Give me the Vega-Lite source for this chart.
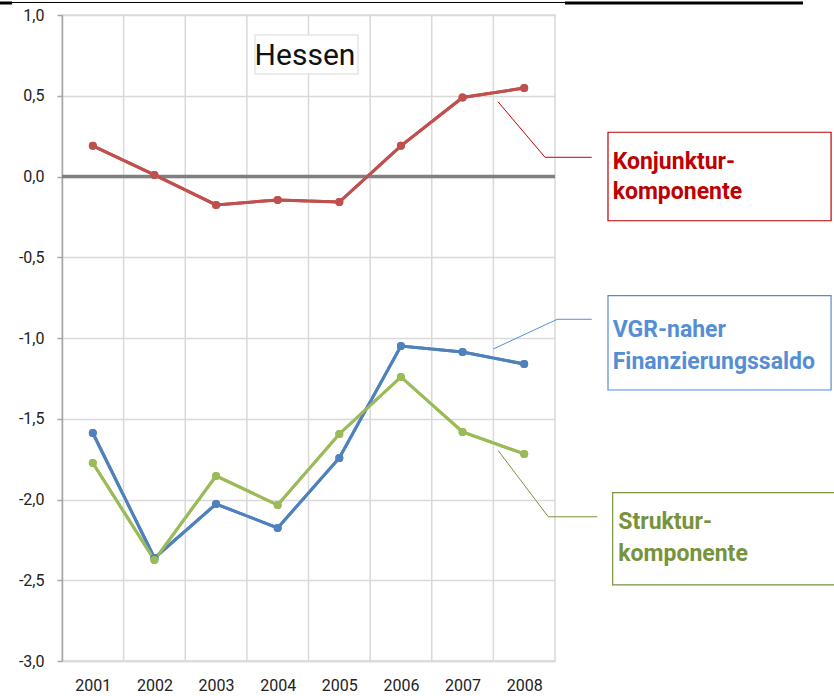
{
  "$schema": "https://vega.github.io/schema/vega-lite/v6.json",
  "width": 493,
  "height": 646,
  "autosize": "none",
  "padding": {"left": 62, "top": 15, "right": 279, "bottom": 35},
  "background": "white",
  "config": {"view": {"stroke": "#d9d9d9", "strokeWidth": 1.5}, "font": "Roboto"},
  "datasets": {
    "series": [
      {"year": 2001, "series": "Konjunkturkomponente", "value": 0.19},
      {"year": 2002, "series": "Konjunkturkomponente", "value": 0.01},
      {"year": 2003, "series": "Konjunkturkomponente", "value": -0.176},
      {"year": 2004, "series": "Konjunkturkomponente", "value": -0.145},
      {"year": 2005, "series": "Konjunkturkomponente", "value": -0.158},
      {"year": 2006, "series": "Konjunkturkomponente", "value": 0.19},
      {"year": 2007, "series": "Konjunkturkomponente", "value": 0.489},
      {"year": 2008, "series": "Konjunkturkomponente", "value": 0.548},
      {"year": 2001, "series": "VGR-naher Finanzierungssaldo", "value": -1.588},
      {"year": 2002, "series": "VGR-naher Finanzierungssaldo", "value": -2.362},
      {"year": 2003, "series": "VGR-naher Finanzierungssaldo", "value": -2.028},
      {"year": 2004, "series": "VGR-naher Finanzierungssaldo", "value": -2.176},
      {"year": 2005, "series": "VGR-naher Finanzierungssaldo", "value": -1.743},
      {"year": 2006, "series": "VGR-naher Finanzierungssaldo", "value": -1.05},
      {"year": 2007, "series": "VGR-naher Finanzierungssaldo", "value": -1.087},
      {"year": 2008, "series": "VGR-naher Finanzierungssaldo", "value": -1.161},
      {"year": 2001, "series": "Strukturkomponente", "value": -1.774},
      {"year": 2002, "series": "Strukturkomponente", "value": -2.375},
      {"year": 2003, "series": "Strukturkomponente", "value": -1.854},
      {"year": 2004, "series": "Strukturkomponente", "value": -2.034},
      {"year": 2005, "series": "Strukturkomponente", "value": -1.594},
      {"year": 2006, "series": "Strukturkomponente", "value": -1.241},
      {"year": 2007, "series": "Strukturkomponente", "value": -1.582},
      {"year": 2008, "series": "Strukturkomponente", "value": -1.718}
    ],
    "bounds": [
      {"bound": 2001.5}, {"bound": 2002.5}, {"bound": 2003.5}, {"bound": 2004.5},
      {"bound": 2005.5}, {"bound": 2006.5}, {"bound": 2007.5}
    ],
    "boxes": [
      {"series": "Konjunkturkomponente", "x": 2009.36, "x2": 2012.98, "y": 0.274, "y2": -0.274},
      {"series": "VGR-naher Finanzierungssaldo", "x": 2009.36, "x2": 2012.98, "y": -0.738, "y2": -1.322},
      {"series": "Strukturkomponente", "x": 2009.436, "x2": 2013.1, "y": -1.958, "y2": -2.529}
    ],
    "connectors": [
      {"series": "Konjunkturkomponente", "i": 1, "x": 2007.575, "y": 0.463},
      {"series": "Konjunkturkomponente", "i": 2, "x": 2008.338, "y": 0.119},
      {"series": "Konjunkturkomponente", "i": 3, "x": 2009.096, "y": 0.119},
      {"series": "VGR-naher Finanzierungssaldo", "i": 1, "x": 2007.499, "y": -1.068},
      {"series": "VGR-naher Finanzierungssaldo", "i": 2, "x": 2008.537, "y": -0.884},
      {"series": "VGR-naher Finanzierungssaldo", "i": 3, "x": 2009.096, "y": -0.884},
      {"series": "Strukturkomponente", "i": 1, "x": 2007.58, "y": -1.698},
      {"series": "Strukturkomponente", "i": 2, "x": 2008.391, "y": -2.107},
      {"series": "Strukturkomponente", "i": 3, "x": 2009.186, "y": -2.107}
    ],
    "labels": [
      {"series": "Konjunkturkomponente", "text": "Konjunktur-", "x": 2009.436, "y": 0.045},
      {"series": "Konjunkturkomponente", "text": "komponente", "x": 2009.436, "y": -0.141},
      {"series": "VGR-naher Finanzierungssaldo", "text": "VGR-naher", "x": 2009.436, "y": -0.992},
      {"series": "VGR-naher Finanzierungssaldo", "text": "Finanzierungssaldo", "x": 2009.436, "y": -1.194},
      {"series": "Strukturkomponente", "text": "Struktur-", "x": 2009.527, "y": -2.183},
      {"series": "Strukturkomponente", "text": "komponente", "x": 2009.527, "y": -2.379}
    ],
    "title": [
      {"text": "Hessen", "x": 2003.632, "x2": 2005.303, "y": 0.876, "y2": 0.635, "tx": 2004.443, "ty": 0.69}
    ],
    "topline": [
      {"x": 1999.494, "x2": 2008.662, "y": 1.0774}
    ],
    "toplinethick": [
      {"x": 2008.662, "x2": 2012.524, "y": 1.0743},
      {"x": 1999.494, "x2": 1999.69, "y": 1.0743}
    ]
  },
  "layer": [
    {
      "data": {"name": "series"},
      "mark": {"type": "line", "strokeWidth": 3, "point": {"filled": true, "size": 64}},
      "encoding": {
        "x": {"field": "year", "type": "quantitative",
          "scale": {"domain": [2000.5, 2008.5], "nice": false, "zero": false},
          "axis": {
            "values": [2001, 2002, 2003, 2004, 2005, 2006, 2007, 2008],
            "title": null,
            "format": "d",
            "grid": false,
            "ticks": false,
            "domainColor": "#d9d9d9",
            "domainWidth": 1.5,
            "labelFontSize": 16,
            "labelPadding": 16,
            "labelColor": "#222222",
            "labelFont": "Roboto",
            "labelFlush": false,
            "labelOverlap": false
          }
        },
        "y": {"field": "value", "type": "quantitative",
          "scale": {"domain": [-3, 1], "nice": false, "zero": false},
          "axis": {
            "values": [-3, -2.5, -2, -1.5, -1, -0.5, 0, 0.5, 1],
            "title": null,
            "grid": true,
            "gridColor": "#d9d9d9",
            "gridWidth": 1.5,
            "domainColor": "#a6a6a6",
            "domainWidth": 1.5,
            "tickColor": "#a6a6a6",
            "tickSize": 5,
            "tickWidth": 1.5,
            "labelFontSize": 16,
            "labelColor": "#222222",
            "labelFont": "Roboto",
            "labelPadding": 13,
            "labelExpr": "replace(replace(format(datum.value, '.1f'), '.', ','), '\u2212', '-')"
          }
        },
        "color": {"field": "series", "type": "nominal", "legend": null, "sort": null,
          "scale": {"domain": ["Konjunkturkomponente", "VGR-naher Finanzierungssaldo", "Strukturkomponente"],
                    "range": ["#c0504d", "#4f81bd", "#9bbb59"]}}
      }
    },
    {
      "data": {"name": "bounds"},
      "mark": {"type": "rule", "color": "#d9d9d9", "strokeWidth": 1.5},
      "encoding": {
        "x": {"field": "bound", "type": "quantitative"}
      }
    },
    {
      "data": {"values": [{}]},
      "mark": {"type": "rule", "color": "#808080", "strokeWidth": 3.5},
      "encoding": {
        "y": {"datum": 0, "type": "quantitative"}
      }
    },
    {
      "data": {"name": "series"},
      "mark": {"type": "line", "strokeWidth": 3, "point": {"filled": true, "size": 64}},
      "encoding": {
        "x": {"field": "year", "type": "quantitative"},
        "y": {"field": "value", "type": "quantitative"},
        "color": {"field": "series", "type": "nominal", "legend": null, "sort": null}
      }
    },
    {
      "data": {"name": "title"},
      "mark": {"type": "rect", "fill": "white", "stroke": "#e6e6e6", "strokeWidth": 1.5},
      "encoding": {
        "x": {"field": "x", "type": "quantitative"},
        "x2": {"field": "x2"},
        "y": {"field": "y", "type": "quantitative"},
        "y2": {"field": "y2"}
      }
    },
    {
      "data": {"name": "title"},
      "mark": {"type": "text", "font": "Roboto", "fontSize": 30, "align": "center", "baseline": "alphabetic", "color": "#111111"},
      "encoding": {
        "x": {"field": "tx", "type": "quantitative"},
        "y": {"field": "ty", "type": "quantitative"},
        "text": {"field": "text"}
      }
    },
    {
      "data": {"name": "connectors"},
      "mark": {"type": "line", "strokeWidth": 1},
      "encoding": {
        "x": {"field": "x", "type": "quantitative"},
        "y": {"field": "y", "type": "quantitative"},
        "order": {"field": "i"},
        "detail": {"field": "series"},
        "stroke": {"field": "series", "type": "nominal", "legend": null,
          "scale": {"domain": ["Konjunkturkomponente", "VGR-naher Finanzierungssaldo", "Strukturkomponente"],
                    "range": ["#c00000", "#558ed5", "#77933c"]}}
      }
    },
    {
      "data": {"name": "boxes"},
      "mark": {"type": "rect", "fill": "white", "strokeWidth": 1.2},
      "encoding": {
        "x": {"field": "x", "type": "quantitative"},
        "x2": {"field": "x2"},
        "y": {"field": "y", "type": "quantitative"},
        "y2": {"field": "y2"},
        "stroke": {"field": "series", "type": "nominal", "legend": null}
      }
    },
    {
      "data": {"name": "labels"},
      "mark": {"type": "text", "font": "Roboto", "fontSize": 23, "fontWeight": "bold", "align": "left", "baseline": "alphabetic"},
      "encoding": {
        "x": {"field": "x", "type": "quantitative"},
        "y": {"field": "y", "type": "quantitative"},
        "text": {"field": "text"},
        "fill": {"field": "series", "type": "nominal", "legend": null,
          "scale": {"domain": ["Konjunkturkomponente", "VGR-naher Finanzierungssaldo", "Strukturkomponente"],
                    "range": ["#c00000", "#558ed5", "#77933c"]}}
      }
    },
    {
      "data": {"name": "topline"},
      "mark": {"type": "rule", "color": "black", "strokeWidth": 1},
      "encoding": {
        "x": {"field": "x", "type": "quantitative"},
        "x2": {"field": "x2"},
        "y": {"field": "y", "type": "quantitative"}
      }
    },
    {
      "data": {"name": "toplinethick"},
      "mark": {"type": "rule", "color": "black", "strokeWidth": 3},
      "encoding": {
        "x": {"field": "x", "type": "quantitative"},
        "x2": {"field": "x2"},
        "y": {"field": "y", "type": "quantitative"}
      }
    }
  ]
}
